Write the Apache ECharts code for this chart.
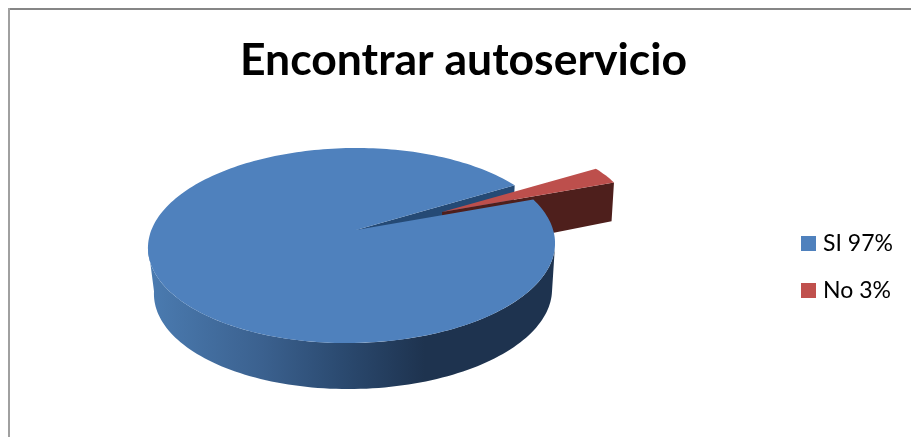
<!DOCTYPE html>
<html>
<head>
<meta charset="utf-8">
<style>html,body{margin:0;padding:0;background:#fff}#chart{width:911px;height:437px}</style>
<script src="https://cdn.jsdelivr.net/npm/echarts@6/dist/echarts.min.js"></script>
</head>
<body>
<div id="chart"></div>
<script>
// Survey answers
const categories = ['SI', 'No'];
const values = [97, 3];
const legendLabels = categories.map((c, i) => c + ' ' + values[i] + '%');
const total = values.reduce((a, b) => a + b, 0);

// Tilted-disc geometry for the hand-built 3D pie
const DISC = { cx: 351.5, cy: 245.5, apexX: 356, apexY: 230, scaleX: 200.9, numY: -58.5, persp: 0.159, shear: 0.05 };
const START_ANGLE = 30.5;                 // rim angle where the first slice begins (degrees)
const EXPLODE = { dx: 86, dy: -18, shrink: 0.97 };

const rad = d => d * Math.PI / 180;

// Projects a rim angle onto the tilted top face
function rim(deg) {
  const s = Math.sin(rad(deg)), c = Math.cos(rad(deg));
  const w = 1 + DISC.persp * s;
  const y = (DISC.apexY + DISC.numY * s) / w;
  return [DISC.cx + DISC.scaleX * c / w + DISC.shear * (DISC.cy - y), y];
}
// Drops a top-face point to the underside, which is a little smaller and deeper towards the front
function under(p) {
  const t = Math.max(0, Math.min(1, (p[1] - 199) / 46));
  return [353 + (p[0] - DISC.cx) * 0.978, p[1] + 40 + 6 * t];
}
function arc(from, to) {
  const pts = [], n = Math.ceil(Math.abs(to - from) / 1.5);
  for (let i = 0; i <= n; i++) pts.push(rim(from + (to - from) * i / n));
  return pts;
}
const apex = [DISC.apexX, DISC.apexY];
function explode(p) {
  return [
    apex[0] + EXPLODE.dx + (p[0] - apex[0]) * EXPLODE.shrink,
    apex[1] + EXPLODE.dy + (p[1] - apex[1]) * EXPLODE.shrink
  ];
}

const poly = (points, fill) => ({
  type: 'polygon',
  shape: { points },
  style: { fill, stroke: null }
});

// Slice sweeps follow the values, counter-clockwise from START_ANGLE
const sweepSi = values[0] / total * 360;
const sweepNo = values[1] / total * 360;

const wallGradient = new echarts.graphic.LinearGradient(154, 0, 552, 0, [
  { offset: 0, color: '#4a7aaf' },
  { offset: 0.27, color: '#3b618f' },
  { offset: 0.47, color: '#2b4a70' },
  { offset: 0.68, color: '#1e334f' },
  { offset: 1, color: '#1e334f' }
], true);

// Cut face of the large slice, seen through the gap the small slice leaves
function renderCutFace() {
  const a = rim(START_ANGLE);
  return poly([apex, a, under(a), under(apex)], '#254a75');
}

// Small slice, pulled out of the disc
function renderNo() {
  const end = START_ANGLE, start = START_ANGLE - sweepNo;
  const top = [apex].concat(arc(start, end)).map(explode);
  const r = rim(start);
  const wall = [apex, r, under(r), under(apex)].map(explode);
  return {
    type: 'group',
    children: [poly(wall, '#4e1f1c'), poly(top, '#bd4f4c')]
  };
}

// Large slice: outer wall first, then the top face
function renderSi() {
  const start = START_ANGLE, end = START_ANGLE + sweepSi;
  const front = arc(189, 351);
  const wall = front.concat(front.map(under).reverse());
  return {
    type: 'group',
    children: [poly(wall, wallGradient), poly([apex].concat(arc(start, end)), '#4f81bd')]
  };
}

const chart = echarts.init(document.getElementById('chart'), null, { renderer: 'canvas' });
chart.setOption({
  backgroundColor: '#fff',
  animation: false,
  title: {
    text: 'Encontrar autoservicio',
    left: 235,
    top: 33,
    textStyle: { fontFamily: 'Lato', fontWeight: 'bold', fontSize: 44.5, color: '#000' }
  },
  legend: {
    orient: 'vertical',
    left: 801,
    top: 232,
    padding: 0,
    itemWidth: 15,
    itemHeight: 15,
    itemGap: 24,
    icon: 'rect',
    data: legendLabels,
    textStyle: { fontFamily: 'Lato', fontSize: 23, color: '#000', padding: [0, 0, 0, 2] },
    selectedMode: false
  },
  graphic: [
    { type: 'rect', shape: { x: 8, y: 8, width: 903, height: 2 }, style: { fill: '#868686' }, silent: true },
    { type: 'rect', shape: { x: 8, y: 8, width: 2, height: 429 }, style: { fill: '#a0a0a0' }, silent: true }
  ],
  series: [
    { type: 'custom', name: legendLabels[0], coordinateSystem: 'none', z: 1, silent: true,
      itemStyle: { color: '#4f81bd' }, data: [values[0]], renderItem: renderCutFace },
    { type: 'custom', name: legendLabels[1], coordinateSystem: 'none', z: 2, silent: true,
      itemStyle: { color: '#c0504d' }, data: [values[1]], renderItem: renderNo },
    { type: 'custom', name: legendLabels[0], coordinateSystem: 'none', z: 3, silent: true,
      itemStyle: { color: '#4f81bd' }, data: [values[0]], renderItem: renderSi }
  ]
});
</script>
</body>
</html>
